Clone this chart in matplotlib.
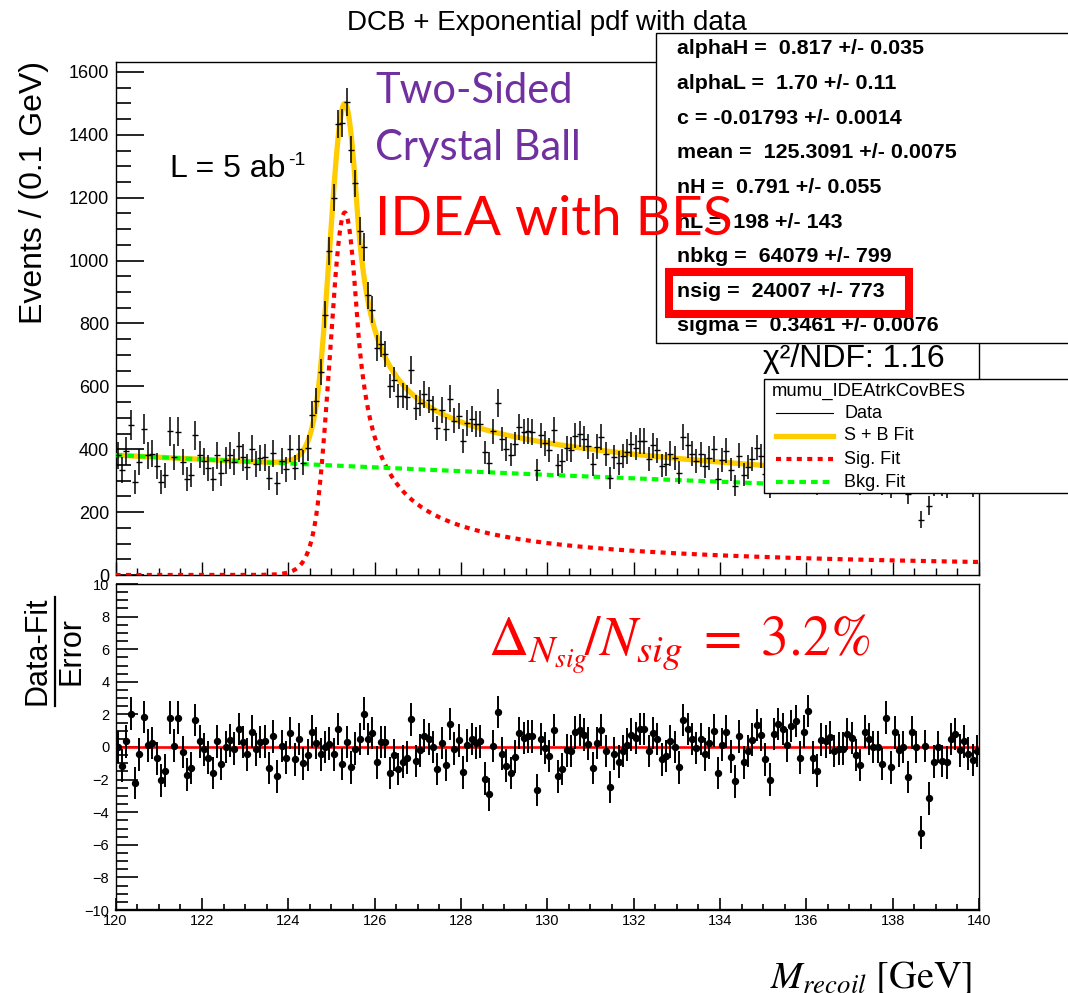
import numpy as np
import matplotlib
matplotlib.use("Agg")
import matplotlib.pyplot as plt
from matplotlib.lines import Line2D
from matplotlib.patches import Rectangle
from matplotlib.ticker import MultipleLocator

plt.rcParams["font.family"] = ["Liberation Sans", "DejaVu Sans"]
plt.rcParams["mathtext.fontset"] = "custom"
plt.rcParams["mathtext.rm"] = "Liberation Sans"
plt.rcParams["mathtext.it"] = "Liberation Sans:italic"
plt.rcParams["axes.unicode_minus"] = True

# ---- fitted model parameters (DCB signal + exponential background) ----
MEAN, SIGMA = 125.3091, 0.3461
ALPHA_L, N_L = 1.70, 198.0
ALPHA_H, N_H = 0.817, 0.791
C_SLOPE = -0.01793
N_SIG, N_BKG = 24007.0, 64079.0
X_LO, X_HI, BIN_W = 120.0, 140.0, 0.1

# mean event weights of the background and signal samples (weighted MC)
W_BKG, W_SIG = 4.8, 0.26

# ---- pulls (Data-Fit)/Error for the 200 bins of 0.1 GeV ----
pulls = np.array([
    0.0, -1.15, 0.35, 2.05, -2.2, -0.45, 1.85, 0.1, 0.25, -0.7,
    -2.05, -1.45, 1.8, 0.08, 1.8, -0.3, -1.7, -1.3, 1.65, 0.35,
    -0.15, -0.65, -1.6, 0.35, -1.05, 0.0, 0.4, -0.1, 1.1, 0.3,
    -0.45, 0.95, -0.15, 0.3, 0.35, -1.3, 0.65, -1.8, 0.05, -0.65,
    0.85, -0.75, 0.5, -1.0, -0.5, 0.95, 0.25, -0.45, 0.0, 0.2,
    -0.45, 1.1, -1.05, 0.3, -1.25, -0.1, 0.5, 2.05, 0.5, 0.85,
    -0.95, 0.3, 0.3, -1.6, -0.5, -1.35, -0.9, -0.65, 1.7, -0.85,
    -0.2, 0.7, 0.5, 0.0, -1.35, 0.25, -1.1, 1.4, -0.1, 0.4,
    -1.55, 0.1, 0.5, 0.25, 0.35, -1.95, -2.9, 0.05, 2.15, -0.4,
    -1.15, -1.6, -0.6, 0.85, 0.55, 0.65, 0.65, -2.65, 0.5, -0.05,
    -0.55, 1.05, -1.8, -1.35, -0.2, -0.25, 0.9, 1.05, 0.75, 0.2,
    -1.3, 0.25, 1.05, -0.25, -2.45, -0.4, -0.9, -0.25, 0.15, 0.75,
    0.55, 1.1, 1.1, -0.25, 0.85, 0.5, -0.75, -0.55, 0.35, 0.0,
    -1.25, 1.65, 1.1, 0.5, -0.05, 0.5, -0.45, 0.25, 1.0, -1.6,
    0.15, 0.95, -0.6, -2.1, 0.65, -0.95, -0.25, 0.45, 1.35, 0.75,
    -0.75, -2.0, 0.8, 1.4, 1.1, 0.1, 1.3, 1.6, -0.65, 0.95,
    2.2, -0.65, -1.45, 0.45, 0.35, 0.6, -0.25, -0.1, -0.1, 0.8,
    0.55, -0.5, -1.1, 0.95, 0.5, 0.0, 0.0, -1.05, 1.8, -1.25,
    0.9, -0.2, 0.0, -1.85, 0.9, 0.0, -5.25, 0.05, -3.15, -0.9,
    0.0, -0.85, -0.95, 0.5, 0.8, -0.2, 0.35, -0.4, -0.8, -0.25,
])

param_text = [
    "alphaH =  0.817 +/- 0.035",
    "alphaL =  1.70 +/- 0.11",
    "c = -0.01793 +/- 0.0014",
    "mean =  125.3091 +/- 0.0075",
    "nH =  0.791 +/- 0.055",
    "nL =  198 +/- 143",
    "nbkg =  64079 +/- 799",
    "nsig =  24007 +/- 773",
    "sigma =  0.3461 +/- 0.0076",
]
legend_title = "mumu_IDEAtrkCovBES"
legend_labels = ["Data", "S + B Fit", "Sig. Fit", "Bkg. Fit"]

YELLOW, RED, GREEN, PURPLE = "#FFCC00", "#FF0000", "#00FF00", "#7030A0"


def dcb_shape(x):
    t = (x - MEAN) / SIGMA
    out = np.exp(-0.5 * t * t)
    lo = t < -ALPHA_L
    r = N_L / ALPHA_L
    out[lo] = np.exp(-0.5 * ALPHA_L ** 2) * (r / (r - ALPHA_L - t[lo])) ** N_L
    hi = t > ALPHA_H
    r = N_H / ALPHA_H
    out[hi] = np.exp(-0.5 * ALPHA_H ** 2) * (r / (r - ALPHA_H + t[hi])) ** N_H
    return out


grid = np.linspace(X_LO, X_HI, 40001)
sig_norm = np.trapezoid(dcb_shape(grid), grid)
bkg_norm = (np.exp(C_SLOPE * X_HI) - np.exp(C_SLOPE * X_LO)) / C_SLOPE


def sig_curve(x):
    return N_SIG * BIN_W * dcb_shape(x) / sig_norm


def bkg_curve(x):
    return N_BKG * BIN_W * np.exp(C_SLOPE * x) / bkg_norm


# bin contents from fit value and pull, with sum-of-weights-squared errors
xc = X_LO + BIN_W * (np.arange(pulls.size) + 0.5)
s_c, b_c = sig_curve(xc), bkg_curve(xc)
fit_c = s_c + b_c
w_eff = (W_BKG * b_c + W_SIG * s_c) / fit_c
root = (pulls * np.sqrt(w_eff) + np.sqrt(pulls ** 2 * w_eff + 4.0 * fit_c)) / 2.0
counts = root ** 2
count_err = np.sqrt(w_eff * counts)

xf = np.linspace(X_LO, X_HI, 2001)
sf = sig_curve(xf)
bf = bkg_curve(xf)

W, H = 1068, 993
fig = plt.figure(figsize=(W / 100, H / 100), dpi=100)


def fx(p):
    return p / W


def fy(p):
    return 1.0 - p / H


L, R = 115.6, 979.0
# ---------------- upper pad ----------------
ax = fig.add_axes([fx(L), fy(575), fx(R) - fx(L), fy(62) - fy(575)])
ax.plot(xf, sf + bf, color=YELLOW, lw=3.8, zorder=2, solid_capstyle="butt")
ax.plot(xf, sf, color=RED, lw=3.0, dashes=(1.2, 1.3), zorder=3)
ax.plot(xf, bf, color=GREEN, lw=3.0, dashes=(1.6, 1.2), zorder=3)
ax.errorbar(xc, counts, yerr=count_err, fmt="_", ms=4, mew=1.0, color="black",
            elinewidth=1.1, capsize=0, zorder=4)
ax.set_xlim(X_LO, X_HI)
ax.set_ylim(0, 1631.8)
ax.xaxis.set_major_locator(MultipleLocator(2))
ax.xaxis.set_minor_locator(MultipleLocator(0.5))
ax.yaxis.set_major_locator(MultipleLocator(200))
ax.yaxis.set_minor_locator(MultipleLocator(50))
ax.tick_params(axis="y", which="major", direction="in", length=20, width=1.2,
               labelsize=13, pad=4.5, right=False)
ax.tick_params(axis="y", which="minor", direction="in", length=10.5, width=1.2,
               right=False)
ax.tick_params(axis="x", which="major", direction="in", length=9.5, width=1.0,
               labelbottom=False, top=False)
ax.tick_params(axis="x", which="minor", direction="in", length=5, width=1.0,
               top=False)
for s in ax.spines.values():
    s.set_linewidth(1.0)

# ---------------- lower pad ----------------
bx = fig.add_axes([fx(L), fy(910), fx(R) - fx(L), fy(584) - fy(910)])
bx.axhline(0.0, color=RED, lw=1.9, zorder=2)
bx.errorbar(xc, pulls, yerr=np.ones_like(pulls), fmt="o", ms=4.3, color="black",
            elinewidth=1.4, capsize=0, zorder=3)
bx.set_xlim(X_LO, X_HI)
bx.set_ylim(-10, 10)
bx.xaxis.set_major_locator(MultipleLocator(2))
bx.xaxis.set_minor_locator(MultipleLocator(0.5))
bx.yaxis.set_major_locator(MultipleLocator(2))
bx.yaxis.set_minor_locator(MultipleLocator(0.5))
bx.tick_params(axis="y", which="major", direction="in", length=16, width=1.2,
               labelsize=10.5, pad=4.5, right=False)
bx.tick_params(axis="y", which="minor", direction="in", length=8.5, width=1.2,
               right=False)
bx.tick_params(axis="x", which="major", direction="in", length=8.5, width=1.2,
               labelsize=10.5, pad=3, top=False)
bx.tick_params(axis="x", which="minor", direction="in", length=4.3, width=1.2,
               top=False)
for s in bx.spines.values():
    s.set_linewidth(1.0)
bx.spines["bottom"].set_linewidth(1.7)

# ---------------- titles and axis labels ----------------
fig.text(fx(547), fy(23), "DCB + Exponential pdf with data", ha="center",
         va="center", fontsize=20)
fig.text(fx(34), fy(193), "Events / (0.1 GeV)", rotation=90, ha="center",
         va="center", fontsize=23)
fig.text(fx(38), fy(651), "Data-Fit", rotation=90, ha="center", va="center",
         fontsize=22)
fig.text(fx(72), fy(651), "Error", rotation=90, ha="center", va="center",
         fontsize=22)
fig.add_artist(Line2D([fx(55), fx(55)], [fy(597), fy(706)], color="black",
                      lw=1.6))
fig.text(fx(770), fy(988), r"$M_{recoil}\ [\mathrm{GeV}]$", ha="left",
         va="baseline", fontsize=27.5, math_fontfamily="stix")

# ---------------- annotations ----------------
fig.text(fx(170), fy(177), "L = 5 ab", ha="left", va="baseline", fontsize=23)
fig.text(fx(288), fy(165), "-1", ha="left", va="baseline", fontsize=14)
fig.text(fx(375), fy(103), "Two-Sided", ha="left", va="baseline",
         fontsize=30, color=PURPLE, family="Lato")
fig.text(fx(375), fy(160), "Crystal Ball", ha="left", va="baseline",
         fontsize=30, color=PURPLE, family="Lato")
fig.text(fx(488), fy(655), r"$\Delta_{N_{sig}}\!/N_{sig}\;=\;3.2\%$",
         ha="left", va="baseline", fontsize=40, color=RED,
         math_fontfamily="stix")

# ---------------- parameter box ----------------
fig.add_artist(Rectangle((fx(656), fy(343)), fx(W + 20) - fx(656),
                         fy(33) - fy(343), transform=fig.transFigure,
                         facecolor="white", edgecolor="black", lw=1.0,
                         zorder=6))
for i, line in enumerate(param_text):
    fig.text(fx(677), fy(49 + 34.6 * i), line, ha="left", va="center",
             fontsize=15.4, fontweight="bold", zorder=7)
fig.add_artist(Rectangle((fx(669), fy(314)), fx(909) - fx(669),
                         fy(272) - fy(314), transform=fig.transFigure,
                         facecolor="none", edgecolor=RED, lw=5.8, zorder=8))
fig.text(fx(763), fy(367), "\u03c7\u00b2/NDF: 1.16", ha="left",
         va="baseline", fontsize=23, zorder=7)

# large label drawn over the parameter box
fig.text(fx(375), fy(235), "IDEA with BES", ha="left", va="baseline",
         fontsize=39.5, color=RED, family="Lato", zorder=9)

# ---------------- legend ----------------
fig.add_artist(Rectangle((fx(764), fy(493)), fx(W + 20) - fx(764),
                         fy(379) - fy(493), transform=fig.transFigure,
                         facecolor="white", edgecolor="black", lw=1.0,
                         zorder=6))
fig.text(fx(772), fy(391), legend_title, ha="left", va="center",
         fontsize=13.2, zorder=7)
entry_y = [413, 436, 459, 482]
styles = [
    dict(color="black", lw=0.8),
    dict(color=YELLOW, lw=3.8),
    dict(color=RED, lw=3.0, dashes=(1.2, 1.3)),
    dict(color=GREEN, lw=3.0, dashes=(1.6, 1.2)),
]
for yy, lab, st in zip(entry_y, legend_labels, styles):
    fig.add_artist(Line2D([fx(776), fx(833)], [fy(yy), fy(yy)], zorder=7, **st))
    fig.text(fx(844), fy(yy), lab, ha="left", va="center", fontsize=13,
             zorder=7)

fig.savefig("out.png", dpi=100)
